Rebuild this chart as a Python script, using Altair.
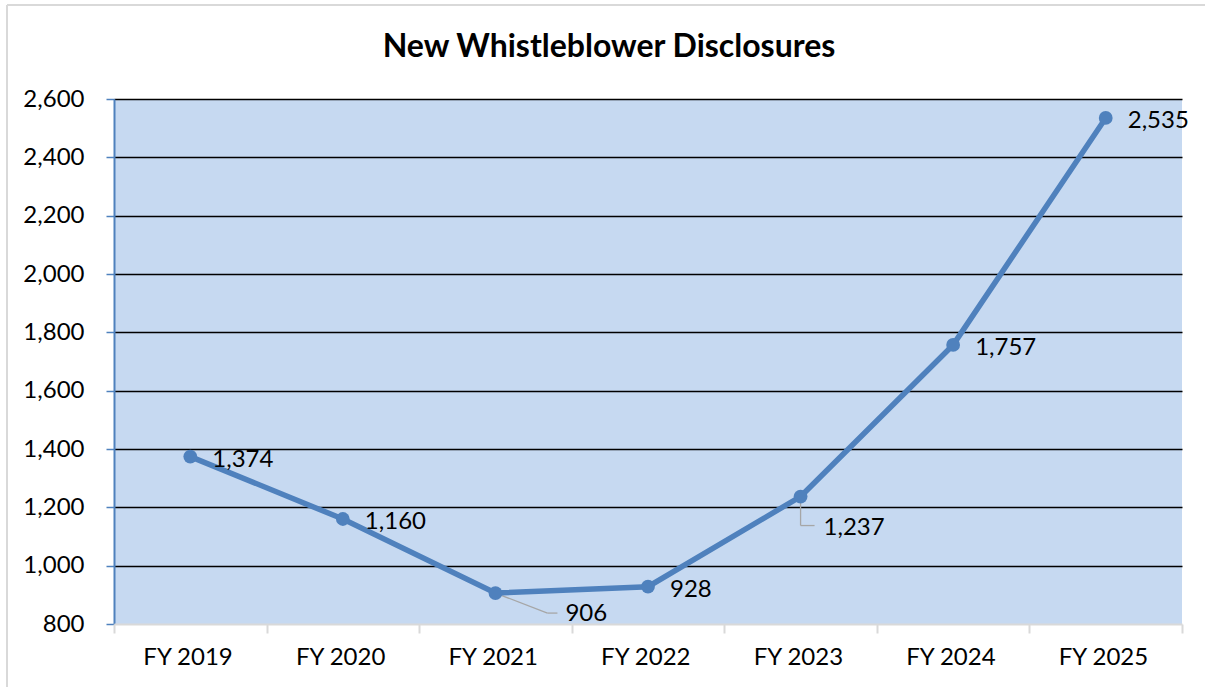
import altair as alt
import pandas as pd

categories = ["FY 2019", "FY 2020", "FY 2021", "FY 2022", "FY 2023", "FY 2024", "FY 2025"]
disclosures = [1374, 1160, 906, 928, 1237, 1757, 2535]
y_ticks = [800, 1000, 1200, 1400, 1600, 1800, 2000, 2200, 2400, 2600]
title_text = "New Whistleblower Disclosures"

df = pd.DataFrame({"fy": categories, "n": disclosures})
df["label"] = [f"{v:,}" for v in disclosures]

W, H = 1068, 525
FONT = "Lato"
BLUE = "#4F81BD"
LEADER = "#A6A6A6"
FS = 24

x_enc = alt.X(
    "fy:N", sort=categories,
    scale=alt.Scale(paddingInner=0, paddingOuter=0),
    axis=alt.Axis(title=None, labelAngle=0, tickBand="extent", tickSize=9, tickWidth=2,
                  tickColor="#D9D9D9", domainColor="#D9D9D9", domainWidth=2,
                  labelFontSize=FS, labelFont=FONT, labelColor="black", labelPadding=24,
                  labelOffset=42, grid=False, zindex=1),
)
y_enc = alt.Y(
    "n:Q",
    scale=alt.Scale(domain=[800, 2600], nice=False, zero=False),
    axis=alt.Axis(title=None, values=y_ticks, format=",d", grid=True,
                  gridColor=alt.condition("datum.value == 800", alt.value("transparent"), alt.value("black")),
                  gridWidth=1.5, domainColor=BLUE, domainWidth=2, tickColor=BLUE, tickSize=8,
                  tickWidth=1.5, labelFontSize=FS, labelFont=FONT, labelColor="black",
                  labelPadding=22),
)
xl = alt.X("fy:N", sort=categories, bandPosition=0.5)
xl2 = alt.X2("fy:N", bandPosition=0.5)

base = alt.Chart(df)

line = base.mark_line(color=BLUE, strokeWidth=5.5).encode(x=x_enc, y=y_enc)
pts = base.mark_circle(color=BLUE, size=190, opacity=1).encode(x=x_enc, y=y_enc)

right_set = [categories[i] for i in (0, 1, 3, 5, 6)]
lab_right = base.transform_filter(
    alt.FieldOneOfPredicate(field="fy", oneOf=right_set)
).mark_text(align="left", baseline="middle", dx=22, dy=3, fontSize=FS, font=FONT,
            color="black").encode(x=x_enc, y=y_enc, text="label:N")

lab_906 = base.transform_filter(alt.datum.fy == categories[2]).mark_text(
    align="left", baseline="middle", dx=70, dy=21, fontSize=FS, font=FONT, color="black"
).encode(x=x_enc, y=y_enc, text="label:N")

lab_1237 = base.transform_filter(alt.datum.fy == categories[4]).mark_text(
    align="left", baseline="middle", dx=23, dy=31, fontSize=FS, font=FONT, color="black"
).encode(x=x_enc, y=y_enc, text="label:N")

lead_a1 = base.transform_filter(alt.datum.fy == categories[2]).mark_rule(
    color=LEADER, strokeWidth=1.3, x2Offset=52, y2Offset=20
).encode(x=xl, x2=xl2, y="n:Q", y2="n:Q")
lead_a2 = base.transform_filter(alt.datum.fy == categories[2]).mark_rule(
    color=LEADER, strokeWidth=1.3, xOffset=52, yOffset=20, x2Offset=62, y2Offset=20
).encode(x=xl, x2=xl2, y="n:Q", y2="n:Q")
lead_b1 = base.transform_filter(alt.datum.fy == categories[4]).mark_rule(
    color=LEADER, strokeWidth=1.3, y2Offset=29
).encode(x=xl, x2=xl2, y="n:Q", y2="n:Q")
lead_b2 = base.transform_filter(alt.datum.fy == categories[4]).mark_rule(
    color=LEADER, strokeWidth=1.3, yOffset=29, x2Offset=14, y2Offset=29
).encode(x=xl, x2=xl2, y="n:Q", y2="n:Q")

frame_df = pd.DataFrame({"t": [title_text]})
border_top = alt.Chart(frame_df).mark_rule(color="#D9D9D9", strokeWidth=2).encode(
    x=alt.value(-107), x2=alt.value(1091), y=alt.value(-94))
border_left = alt.Chart(frame_df).mark_rule(color="#D9D9D9", strokeWidth=2).encode(
    x=alt.value(-107), y=alt.value(-94), y2=alt.value(600))
title_mark = alt.Chart(frame_df).mark_text(
    align="center", baseline="alphabetic", fontSize=32, font=FONT, fontWeight="bold",
    color="black"
).encode(x=alt.value(495), y=alt.value(-42), text="t:N")

chart = alt.layer(
    lead_a1, lead_a2, lead_b1, lead_b2, line, pts, lab_right, lab_906, lab_1237,
    border_top, border_left, title_mark,
).properties(
    width=W, height=H,
    autosize=alt.AutoSizeParams(type="none"),
    padding={"left": 114, "top": 99, "right": 23, "bottom": 63},
    background="white",
).configure_view(fill="#C6D9F1", strokeWidth=0)

chart.save("out.html", embed_options={"renderer": "svg", "actions": False})
